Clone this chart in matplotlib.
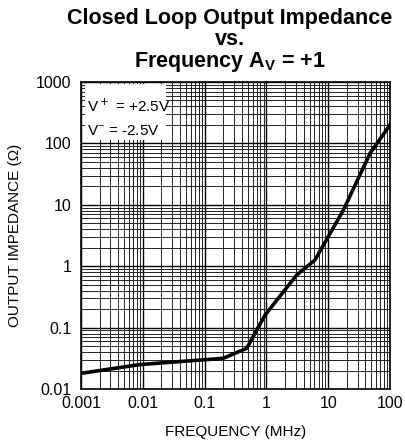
import matplotlib.pyplot as plt
from matplotlib.patches import Rectangle
from matplotlib.ticker import LogLocator, NullFormatter, FixedLocator, FixedFormatter

plt.rcParams['font.family'] = ['Liberation Sans', 'DejaVu Sans']

# data
freq_mhz = [0.001, 0.009, 0.2, 0.48, 0.95, 3.1, 6.1, 17.6, 47.6, 100]
impedance = [0.018, 0.025, 0.0316, 0.046, 0.16, 0.72, 1.26, 8.2, 69, 200]

x_ticks = [0.001, 0.01, 0.1, 1, 10, 100]
x_labels = ['0.001', '0.01', '0.1', '1', '10', '100']
y_ticks = [0.01, 0.1, 1, 10, 100, 1000]
y_labels = ['0.01', '0.1', '1', '10', '100', '1000']

fig = plt.figure(figsize=(4.05, 4.44), dpi=100)
ax = fig.add_axes([81 / 405, 1 - 389 / 444, 309 / 405, 307 / 444])

ax.set_xscale('log')
ax.set_yscale('log')
ax.set_xlim(0.001, 100)
ax.set_ylim(0.01, 1000)

ax.xaxis.set_major_locator(FixedLocator(x_ticks))
ax.xaxis.set_major_formatter(FixedFormatter(x_labels))
ax.yaxis.set_major_locator(FixedLocator(y_ticks))
ax.yaxis.set_major_formatter(FixedFormatter(y_labels))
ax.xaxis.set_minor_locator(LogLocator(base=10, subs=range(2, 10), numticks=20))
ax.yaxis.set_minor_locator(LogLocator(base=10, subs=range(2, 10), numticks=20))
ax.xaxis.set_minor_formatter(NullFormatter())
ax.yaxis.set_minor_formatter(NullFormatter())

ax.grid(which='major', color='black', linewidth=1.0)
ax.grid(which='minor', color='#222222', linewidth=0.7)
ax.tick_params(which='both', length=0, labelsize=11.5)
ax.tick_params(axis='y', pad=7)
ax.tick_params(axis='x', pad=5)
for s in ax.spines.values():
    s.set_linewidth(1.2)
    s.set_zorder(7)

ax.plot(freq_mhz, impedance, color='black', linewidth=2.6, zorder=5)

# supply voltage box
ax.add_patch(Rectangle((0.012, 0.81), 0.262, 0.184, transform=ax.transAxes,
                       facecolor='white', edgecolor='none', zorder=6))
ax.text(0.02, 0.922, 'V$^+$ = +2.5V', transform=ax.transAxes,
        ha='left', va='center', fontsize=11, zorder=6)
ax.text(0.02, 0.838, 'V$^\\mathregular{-}$ = -2.5V', transform=ax.transAxes,
        ha='left', va='center', fontsize=11, zorder=6)

ax.set_xlabel('FREQUENCY (MHz)', fontsize=11, labelpad=10)
ax.set_ylabel('OUTPUT IMPEDANCE (Ω)', fontsize=11, labelpad=10)

fig.text(0.567, 0.981, 'Closed Loop Output Impedance\nvs.\nFrequency A$_\\mathregular{V}$ = +1',
         ha='center', va='top', fontsize=15.5, fontweight='bold', linespacing=0.98)

fig.savefig('out.png', dpi=100)
